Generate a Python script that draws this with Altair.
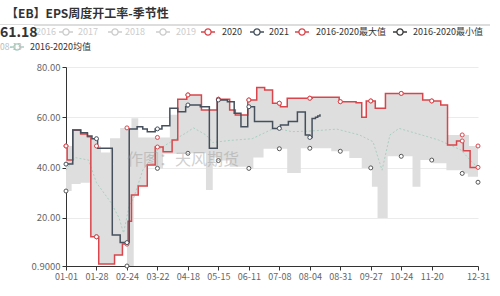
import altair as alt
import numpy as np
import pandas as pd

FONT = "Noto Sans CJK SC"

# ---------------- data ----------------
tick_days = [0, 27, 54, 81, 108, 135, 162, 189, 216, 243, 270, 297, 324, 365]
tick_labels = ["01-01", "01-28", "02-24", "03-22", "04-18", "05-15", "06-11",
               "07-08", "08-04", "08-31", "09-27", "10-24", "11-20", "12-31"]
symbol_days = [0, 27, 54, 81, 108, 135, 162, 189, 216, 243, 270, 297, 324, 351, 365]
y_ticks = [0.9, 20, 40, 60, 80]

d2020_days = [0, 1, 6, 13, 19, 22, 29, 43, 50, 55, 58, 64, 72, 79, 86, 94, 99, 107, 120, 134,
              145, 150, 161, 169, 176, 183, 190, 196, 218, 242, 257, 262, 266, 274, 283, 316,
              324, 332, 338, 346, 352, 358, 365]
d2020_vals = [48.6, 43.0, 55.0, 53.4, 52.3, 12.5, 1.7, 5.3, 9.6, 18.7, 29.1, 32.7, 41.0, 48.2,
              46.3, 51.0, 67.2, 68.9, 62.9, 67.2, 62.9, 60.9, 66.9, 71.9, 70.9, 65.6, 64.2,
              67.6, 68.0, 66.2, 65.8, 60.0, 66.5, 63.6, 69.5, 66.9, 66.5, 64.9, 49.0, 50.6,
              46.7, 40.1, 40.1]

d2021_days = [0, 6, 13, 19, 23, 28, 41, 48, 56, 63, 68, 72, 79, 85, 92, 99, 106, 108, 119, 127,
              134, 143, 149, 155, 161, 167, 183, 190, 197, 205, 212, 216, 218, 221, 223, 225]
d2021_vals = [41.4, 55.0, 53.9, 52.6, 51.5, 47.7, 13.2, 10.2, 55.4, 56.3, 55.4, 54.3, 55.4, 56.6,
              63.6, 62.2, 64.2, 64.9, 64.2, 47.7, 66.9, 66.2, 61.6, 56.3, 64.2, 58.3, 55.6,
              56.9, 58.3, 62.1, 53.0, 52.0, 59.5, 60.0, 60.5, 61.18]

max_days = [0, 6, 13, 19, 22, 27, 31, 39, 48, 58, 64, 92, 99, 107, 120, 134, 145, 150, 161, 169,
            176, 183, 190, 196, 218, 242, 257, 262, 266, 274, 283, 316, 324, 332, 338, 357, 365]
max_vals = [48.6, 55.0, 53.9, 52.6, 51.5, 48.6, 46.0, 51.7, 55.8, 59.6, 52.0, 61.0, 67.2, 68.9,
            62.9, 67.2, 62.9, 60.9, 66.9, 71.9, 70.9, 65.6, 64.2, 67.6, 68.0, 66.2, 65.8, 60.0,
            66.5, 63.6, 69.5, 66.9, 66.5, 64.9, 53.0, 48.6, 48.6]

min_days = [0, 5, 13, 22, 29, 43, 50, 54, 60, 64, 72, 79, 86, 99, 124, 130, 135, 145, 162, 166,
            175, 196, 208, 235, 251, 262, 271, 276, 285, 307, 314, 325, 337, 351, 356, 365]
min_vals = [30.7, 33.5, 34.0, 12.5, 1.7, 5.3, 9.6, 0.9, 29.1, 32.7, 41.0, 39.7, 45.5, 45.7,
            31.1, 44.0, 42.8, 40.4, 39.7, 44.0, 47.5, 37.9, 47.7, 46.5, 43.8, 39.9, 32.4, 20.0,
            44.5, 32.4, 43.0, 41.7, 39.0, 37.7, 36.4, 34.2]

mean_days = [0, 8, 20, 27, 40, 47, 51, 56, 60, 68, 81, 92, 107, 113, 124, 130, 145, 165, 185,
             200, 215, 240, 260, 272, 280, 287, 295, 315, 330, 340, 350, 358, 365]
mean_vals = [39.0, 44.0, 43.0, 34.0, 26.0, 20.0, 14.0, 25.0, 28.0, 39.0, 47.0, 50.0, 54.0, 55.8,
             53.0, 50.0, 50.8, 51.5, 55.8, 54.3, 54.5, 55.3, 53.0, 50.3, 39.0, 53.0, 55.6,
             53.0, 51.0, 49.0, 47.0, 43.0, 40.0]

latest_value = "61.18"
latest_date = "08-13"
title_text = "【EB】EPS周度开工率-季节性"
watermark = "作图：天风期货"

legend_labels = ["2016", "2017", "2018", "2019", "2020", "2021",
                 "2016-2020最大值", "2016-2020最小值", "2016-2020均值"]

# ---------------- styles ----------------
RED = "#d9454b"
DARK = "#45505c"
MEAN = "#a9cfc3"
BAND = "#dedede"
OFF = "#cccccc"

legend_colors = [OFF, OFF, OFF, OFF, RED, DARK, RED, "#3a3a3a", MEAN]
legend_text_colors = [OFF, OFF, OFF, OFF, "#333", "#333", "#333", "#333", "#333"]
# pixel layout (relative to plot origin at 66,67)
legend_sym_x = [-51, 0, 49, 97, 142, 191, 236, 334, -49]
legend_txt_x = [-30, 12, 59, 110, 156, 203, 250, 347, -36]
legend_y = [-35, -35, -35, -35, -35, -35, -35, -35, -20]


def ffill(days, vals, grid):
    idx = np.searchsorted(np.array(days), grid, side="right") - 1
    return np.array(vals)[idx]


xs = alt.Scale(domain=[0, 365], nice=False, zero=False)
ys = alt.Scale(domain=[0.9, 80], nice=False, zero=False)

label_expr = ("[" + ",".join(f"'{l}'" for l in tick_labels) + "][indexof(["
              + ",".join(str(d) for d in tick_days) + "], datum.value)]")

x_axis = alt.Axis(values=tick_days, labelExpr=label_expr, grid=False, domainColor="#333",
                  tickColor="#333", tickSize=4, labelColor="#666", labelFontSize=9,
                  labelFont=FONT, labelPadding=2, labelFlush=False, labelOverlap=False,
                  title=None)
y_axis = alt.Axis(values=y_ticks,
                  labelExpr="datum.value < 1 ? '0.9000' : format(datum.value, '.2f')",
                  grid=True, gridColor="#ebebeb", domainColor="#333", tickColor="#333",
                  tickSize=4, labelColor="#666", labelFontSize=9.5, labelFont=FONT,
                  labelPadding=2, title=None)

X = alt.X("day:Q", scale=xs, axis=x_axis)


def Y(field):
    return alt.Y(field, scale=ys, axis=y_axis)


grid_days = np.arange(0, 366)
band_df = pd.DataFrame({"day": grid_days,
                        "lo": ffill(min_days, min_vals, grid_days),
                        "hi": ffill(max_days, max_vals, grid_days)})

band = alt.Chart(band_df).mark_area(interpolate="step-after", color=BAND).encode(
    x=X, y=Y("lo:Q"), y2="hi:Q")

mean_line = alt.Chart(pd.DataFrame({"day": mean_days, "v": mean_vals})).mark_line(
    color=MEAN, strokeWidth=1, strokeDash=[2, 2]).encode(x=X, y=Y("v:Q"))

line2020 = alt.Chart(pd.DataFrame({"day": d2020_days, "v": d2020_vals})).mark_line(
    color=RED, strokeWidth=1.5, interpolate="step-after").encode(x=X, y=Y("v:Q"))

line2021 = alt.Chart(pd.DataFrame({"day": d2021_days, "v": d2021_vals})).mark_line(
    color=DARK, strokeWidth=1.5, interpolate="step-after").encode(x=X, y=Y("v:Q"))


def symbols(days, vals, color, last_day=365):
    sd = np.array([d for d in symbol_days if d <= last_day])
    df = pd.DataFrame({"day": sd, "v": ffill(days, vals, sd)})
    return alt.Chart(df).mark_point(shape="circle", filled=True, fill="white", stroke=color,
                                    strokeWidth=1, size=16, opacity=1).encode(x=X, y=Y("v:Q"))


sym_max = symbols(max_days, max_vals, RED)
sym_min = symbols(min_days, min_vals, "#555")
sym_2020 = symbols(d2020_days, d2020_vals, RED)
sym_2021 = symbols(d2021_days, d2021_vals, DARK, last_day=225)


def txt(s, x, y, size, color, weight="normal", align="left", opacity=1.0):
    return alt.Chart(pd.DataFrame({"t": [s]})).mark_text(
        align=align, baseline="middle", fontSize=size, font=FONT, fontWeight=weight,
        color=color, opacity=opacity).encode(x=alt.value(x), y=alt.value(y), text="t:N")


def one():
    return alt.Chart(pd.DataFrame({"a": [0]}))


layers = [band, mean_line, line2020, line2021, sym_max, sym_min, sym_2020, sym_2021]

# watermark
layers.append(txt(watermark, 117, 93, 16, "#999", align="center", opacity=0.45))

# title and separator
layers.append(txt(title_text, -60, -53, 12, "#333", weight="bold"))
layers.append(one().mark_rule(color="#bbbbbb", strokeWidth=1).encode(
    x=alt.value(-66), x2=alt.value(424), y=alt.value(-42)))

# legend
for lab, c, tc, sx, tx, ly in zip(legend_labels, legend_colors, legend_text_colors,
                                  legend_sym_x, legend_txt_x, legend_y):
    layers.append(one().mark_rule(color=c, strokeWidth=1.5).encode(
        x=alt.value(sx - 7), x2=alt.value(sx + 7), y=alt.value(ly)))
    layers.append(one().mark_point(shape="circle", filled=True, fill="white", stroke=c,
                                   strokeWidth=1.3, size=38, opacity=1).encode(
        x=alt.value(sx), y=alt.value(ly)))
    layers.append(txt(lab, tx, ly, 9, tc))

# tooltip-like latest value
layers.append(one().mark_rect(color="white").encode(
    x=alt.value(-66), x2=alt.value(-32), y=alt.value(-42), y2=alt.value(-27)))
layers.append(txt(latest_value, -66, -34, 14, "#333", weight="bold"))
layers.append(txt(latest_date, -66, -20, 8.5, "#bbb"))

chart = alt.layer(*layers).properties(
    width=412, height=199,
    padding={"left": 66, "top": 67, "right": 22, "bottom": 30},
    autosize=alt.AutoSizeParams(type="none"),
    background="white",
).configure_view(stroke=None)

chart.save("out.html", embed_options={"renderer": "svg", "actions": False})
